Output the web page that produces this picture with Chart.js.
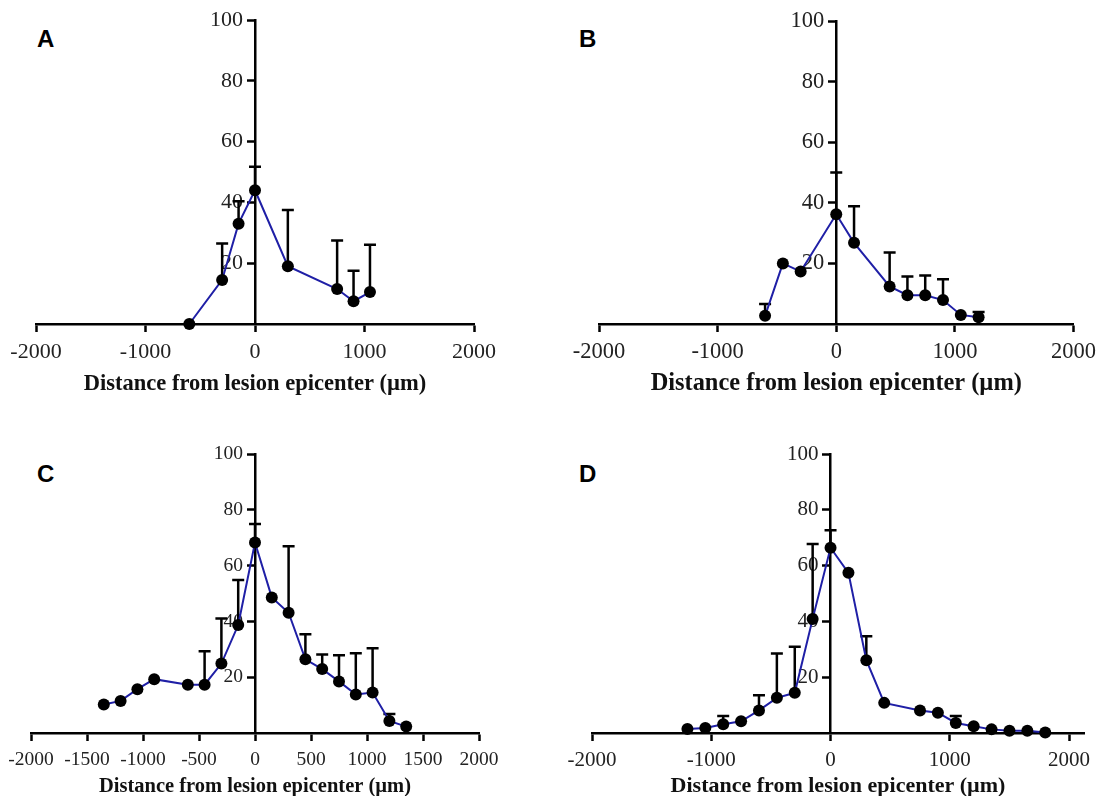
<!DOCTYPE html>
<html>
<head>
<meta charset="utf-8">
<script src="https://cdn.jsdelivr.net/npm/chart.js@4.4.1/dist/chart.umd.min.js"></script>
<style>
  body { margin: 0; background: #fff; width: 1103px; height: 796px; overflow: hidden; position: relative; }
  canvas { position: absolute; }
  .tag { position: absolute; font: bold 24px "Liberation Sans", Arial, sans-serif; line-height: 24px; color: #000; }
</style>
</head>
<body>
<div class="tag" style="left:37px;top:27px">A</div>
<div class="tag" style="left:579px;top:27px">B</div>
<div class="tag" style="left:37px;top:462px">C</div>
<div class="tag" style="left:579px;top:462px">D</div>
<canvas id="chartA" width="550" height="400" style="left:0;top:0"></canvas>
<canvas id="chartB" width="553" height="400" style="left:550px;top:0"></canvas>
<canvas id="chartC" width="550" height="380" style="left:0;top:430px"></canvas>
<canvas id="chartD" width="553" height="380" style="left:550px;top:430px"></canvas>
<script>
// distance from lesion epicenter (um), mean %, upper SEM
const distA = [-600, -300, -150, 0, 300, 750, 900, 1050];
const valA  = [0, 14.5, 33, 44, 19, 11.5, 7.5, 10.5];
const errA  = [0, 12, 7.4, 7.7, 18.5, 16, 10, 15.6];

const distB = [-600, -450, -300, 0, 150, 450, 600, 750, 900, 1050, 1200];
const valB  = [2.7, 20, 17.3, 36.2, 26.8, 12.4, 9.5, 9.5, 7.9, 3, 2.2];
const errB  = [3.9, 0, 0, 13.8, 12.1, 11.2, 6.2, 6.5, 6.9, 0, 1.8];

const distC = [-1350, -1200, -1050, -900, -600, -450, -300, -150, 0, 150, 300, 450, 600, 750, 900, 1050, 1200, 1350];
const valC  = [10.2, 11.5, 15.7, 19.3, 17.3, 17.3, 24.9, 38.7, 68.3, 48.6, 43.1, 26.4, 22.9, 18.5, 13.8, 14.5, 4.3, 2.3];
const errC  = [0, 0, 0, 0, 0, 12, 16.1, 16.1, 6.6, 0, 23.8, 9, 5.2, 9.4, 14.8, 15.9, 2.5, 0];

const distD = [-1200, -1050, -900, -750, -600, -450, -300, -150, 0, 150, 300, 450, 750, 900, 1050, 1200, 1350, 1500, 1650, 1800];
const valD  = [1.4, 1.8, 3.1, 4.2, 8.1, 12.6, 14.4, 40.9, 66.4, 57.4, 26.1, 10.8, 8.1, 7.3, 3.6, 2.4, 1.3, 0.8, 0.8, 0.2];
const errD  = [0, 0, 3, 0, 5.4, 15.9, 16.5, 26.8, 6.3, 0, 8.6, 0, 0, 0, 2.5, 0, 0, 0, 0, 0];

const xTicksWide = [-2000, -1000, 0, 1000, 2000];
const xTicksFine = [-2000, -1500, -1000, -500, 0, 500, 1000, 1500, 2000];
const yTicks = [20, 40, 60, 80, 100];
const xTitle = 'Distance from lesion epicenter (\u00b5m)';
const serif = '"Liberation Serif", "Times New Roman", serif';

// upper-only error bars with a cap
function errorBars(errs) {
  return {
    id: 'errorBars',
    beforeDatasetsDraw(chart) {
      const ctx = chart.ctx;
      const x = chart.scales.x, y = chart.scales.y;
      const pts = chart.data.datasets[0].data;
      ctx.save();
      ctx.strokeStyle = '#000';
      ctx.lineWidth = 2.5;
      pts.forEach((p, i) => {
        if (!errs[i]) return;
        const px = x.getPixelForValue(p.x);
        const y0 = y.getPixelForValue(p.y);
        const y1 = y.getPixelForValue(p.y + errs[i]);
        ctx.beginPath();
        ctx.moveTo(px, y0);
        ctx.lineTo(px, y1);
        ctx.moveTo(px - 6, y1);
        ctx.lineTo(px + 6, y1);
        ctx.stroke();
      });
      ctx.restore();
    }
  };
}

// the y axis sits at x = 0; move its labels left of the tick marks
const yLabelGap = {
  id: 'yLabelGap',
  beforeDraw(chart) {
    const s = chart.scales.y;
    s.getLabelItems().forEach(it => {
      if (it._moved) return;
      it.options.translation[0] -= 12;
      it._moved = true;
    });
  }
};

function panel(id, xs, ys, errs, g) {
  new Chart(document.getElementById(id), {
    type: 'line',
    data: {
      datasets: [{
        data: xs.map((x, i) => ({x: x, y: ys[i]})),
        borderColor: '#1f1fa6',
        borderWidth: 2,
        pointRadius: 6,
        pointBackgroundColor: '#000',
        pointBorderColor: '#000',
        pointBorderWidth: 0,
        tension: 0,
        clip: false
      }]
    },
    options: {
      responsive: false,
      animation: false,
      events: [],
      layout: {padding: g.pad},
      plugins: {legend: {display: false}, tooltip: {enabled: false}},
      scales: {
        x: {
          type: 'linear',
          position: 'bottom',
          min: -2000,
          max: g.xmax,
          afterBuildTicks: s => { s.ticks = g.xticks.map(v => ({value: v})); },
          ticks: {
            autoSkip: false, maxRotation: 0,
            color: '#222', padding: g.tickPad,
            font: {family: serif, size: g.tick},
            callback: v => String(v)
          },
          grid: {drawOnChartArea: false, tickLength: 8, tickWidth: 2.5, tickColor: '#000'},
          border: {color: '#000', width: 2.5},
          title: {
            display: true, text: xTitle, color: '#111',
            font: {family: serif, size: g.title, weight: 'bold'},
            padding: {top: 0, bottom: g.titlePad}
          },
          afterFit: s => { s.height = g.axisH; }
        },
        y: {
          type: 'linear',
          position: {x: 0},
          min: 0,
          max: 100,
          afterBuildTicks: s => { s.ticks = [0].concat(yTicks).map(v => ({value: v})); },
          ticks: {
            color: '#222', padding: 3,
            font: {family: serif, size: g.tick},
            callback: v => (v === 0 ? '' : String(v))
          },
          grid: {
            drawOnChartArea: false, tickLength: 7, tickWidth: 2.5,
            tickColor: c => (c.tick && c.tick.value === 0 ? 'rgba(0,0,0,0)' : '#000')
          },
          border: {color: '#000', width: 2.5}
        }
      }
    },
    plugins: [errorBars(errs), yLabelGap]
  });
}

panel('chartA', distA, valA, errA, {pad: {left: 36, right: 76, top: 20, bottom: 0}, xmax: 2000, xticks: xTicksWide, tick: 22, tickPad: 7.5, title: 22.5, titlePad: 2.5, axisH: 76});
panel('chartB', distB, valB, errB, {pad: {left: 49, right: 27, top: 21, bottom: 0}, xmax: 2000, xticks: xTicksWide, tick: 22.5, tickPad: 7, title: 24.4, titlePad: 1.5, axisH: 76});
panel('chartC', distC, valC, errC, {pad: {left: 31, right: 71, top: 24, bottom: 0}, xmax: 2000, xticks: xTicksFine, tick: 19.5, tickPad: 7, title: 20.5, titlePad: 10.5, axisH: 77});
panel('chartD', distD, valD, errD, {pad: {left: 42, right: 19, top: 24, bottom: 0}, xmax: 2125, xticks: xTicksWide, tick: 21, tickPad: 6.5, title: 22, titlePad: 10, axisH: 77});
</script>
</body>
</html>
